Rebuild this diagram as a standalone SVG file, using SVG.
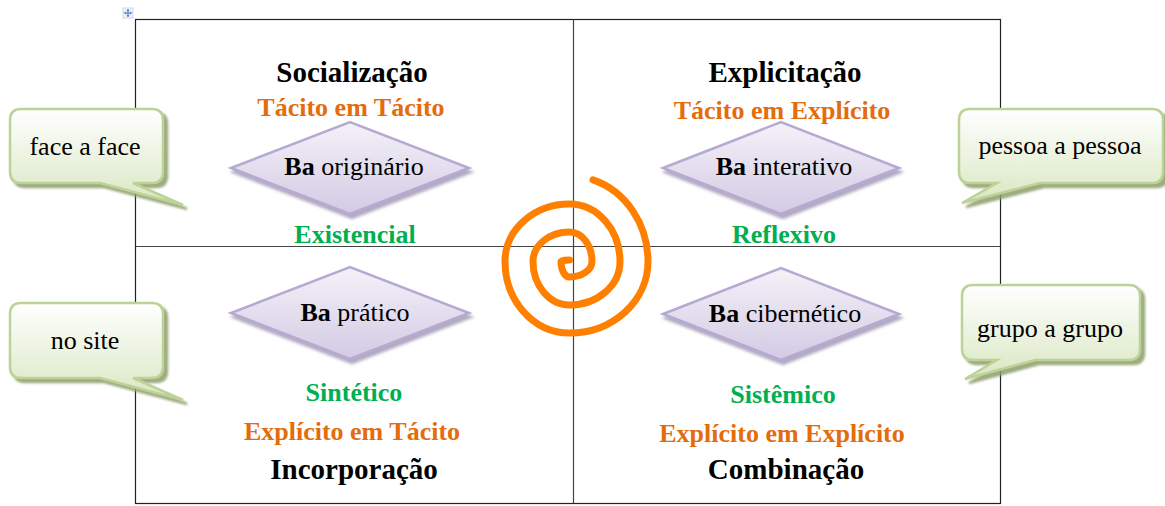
<svg xmlns="http://www.w3.org/2000/svg" width="1165" height="506" viewBox="0 0 1165 506">
<defs>
<linearGradient id="gCall" x1="0" y1="0" x2="0" y2="1">
<stop offset="0" stop-color="#ffffff"/>
<stop offset="1" stop-color="#d9e7c2"/>
</linearGradient>
<linearGradient id="gDia" x1="0" y1="0" x2="0" y2="1">
<stop offset="0" stop-color="#f4f2f8"/>
<stop offset="1" stop-color="#d3cae4"/>
</linearGradient>
<filter id="shCall" x="-10%" y="-10%" width="130%" height="140%">
<feDropShadow dx="4" dy="4" stdDeviation="1.2" flood-color="#8d9f6c" flood-opacity="0.85"/>
</filter>
<filter id="shDia" x="-10%" y="-10%" width="130%" height="140%">
<feDropShadow dx="2" dy="4" stdDeviation="1.5" flood-color="#7c7098" flood-opacity="0.6"/>
</filter>
<style>
.t{font-family:"Liberation Serif","Times New Roman",serif;text-anchor:middle}
.hd{font-size:29px;font-weight:bold;fill:#000}
.or{font-size:26px;font-weight:bold;fill:#e46c0a}
.gr{font-size:26px;font-weight:bold;fill:#00b050}
.dt{font-size:26px;fill:#000}
.ct{font-size:26px;fill:#000}
.call{fill:url(#gCall);stroke:#bdd296;stroke-width:2.5;filter:url(#shCall)}
.dia{fill:url(#gDia);stroke:#b6a9d2;stroke-width:2.5;filter:url(#shDia)}
.ln{stroke:#222;stroke-width:1.2;fill:none}
.in{stroke:#444;stroke-width:1.2;fill:none}
</style>
</defs>
<rect width="1165" height="506" fill="#ffffff"/>

<g id="table">
<rect class="ln" x="135.5" y="19.5" width="865" height="484"/>
<line class="in" x1="573.5" y1="19.5" x2="573.5" y2="503.5"/>
<line class="in" x1="135.5" y1="246.5" x2="1000.5" y2="246.5"/>
</g>

<g id="move-handle">
<rect x="123" y="8" width="10" height="10" fill="#eef2f8" stroke="#c8cfdb" stroke-width="0.8"/>
<path d="M128 9.5V16.5M124.5 13H131.5" stroke="#4a7bd0" stroke-width="1.2"/>
<path d="M128 9l-1.6 1.8h3.2zM128 17l-1.6-1.8h3.2zM124 13l1.8-1.6v3.2zM132 13l-1.8-1.6v3.2z" fill="#4a7bd0"/>
</g>

<g id="spiral">
<path d="M569.5 260 A8.5 1.5 0 0 0 561 261.5 A8.5 15.5 0 0 0 569.5 277 A22.5 15.5 0 0 0 592 261.5 A22.5 29.5 0 0 0 569.5 232 A36.5 29.5 0 0 0 533 261.5 A36.5 43.5 0 0 0 569.5 305 A50.5 43.5 0 0 0 620 261.5 A50.5 57.5 0 0 0 569.5 204 A64.5 57.5 0 0 0 505 261.5 A64.5 71.5 0 0 0 569.5 333 A78.5 71.5 0 0 0 648 261.5 A78.5 85.5 0 0 0 593 179.9" fill="none" stroke="#ff8000" stroke-width="7" stroke-linecap="round" stroke-linejoin="round"/>
</g>

<g id="socializacao">
<text class="t hd" x="352" y="82">Socialização</text>
<text class="t or" x="351" y="116">Tácito em Tácito</text>
<polygon class="dia" points="231,168 350,122 469,168 350,214"/>
<text class="t dt" x="354" y="175"><tspan font-weight="bold">Ba</tspan> originário</text>
<text class="t gr" x="355" y="243">Existencial</text>
</g>

<g id="explicitacao">
<text class="t hd" x="785" y="82">Explicitação</text>
<text class="t or" x="782" y="118.5">Tácito em Explícito</text>
<polygon class="dia" points="663,168 781,122 899,168 781,214"/>
<text class="t dt" x="784" y="175"><tspan font-weight="bold">Ba</tspan> interativo</text>
<text class="t gr" x="784" y="243">Reflexivo</text>
</g>

<g id="incorporacao">
<polygon class="dia" points="231,313 350,267 469,313 350,359"/>
<text class="t dt" x="355" y="321"><tspan font-weight="bold">Ba</tspan> prático</text>
<text class="t gr" x="354" y="401">Sintético</text>
<text class="t or" x="352" y="440">Explícito em Tácito</text>
<text class="t hd" x="354" y="479">Incorporação</text>
</g>

<g id="combinacao">
<polygon class="dia" points="663,314 781,268 899,314 781,360"/>
<text class="t dt" x="785" y="322"><tspan font-weight="bold">Ba</tspan> cibernético</text>
<text class="t gr" x="783" y="403">Sistêmico</text>
<text class="t or" x="782" y="442">Explícito em Explícito</text>
<text class="t hd" x="786" y="479">Combinação</text>
</g>

<g id="callout-face">
<path class="call" d="M21 109H152Q163 109 163 120V172Q163 183 152 183H133L183 205L100 183H21Q10 183 10 172V120Q10 109 21 109Z"/>
<text class="t ct" x="85" y="155">face a face</text>
</g>

<g id="callout-site">
<path class="call" d="M21 303H152Q163 303 163 314V367Q163 378 152 378H133L183 400L100 378H21Q10 378 10 367V314Q10 303 21 303Z"/>
<text class="t ct" x="85" y="349">no site</text>
</g>

<g id="callout-pessoa">
<path class="call" d="M970 109H1152Q1163 109 1163 120V172Q1163 183 1152 183H1040L962 203L997 183H970Q959 183 959 172V120Q959 109 970 109Z"/>
<text class="t ct" x="1060" y="154">pessoa a pessoa</text>
</g>

<g id="callout-grupo">
<path class="call" d="M973 285H1129Q1140 285 1140 296V349Q1140 360 1129 360H1035L965 379L997 360H973Q962 360 962 349V296Q962 285 973 285Z"/>
<text class="t ct" x="1050" y="337">grupo a grupo</text>
</g>

<g id="connectors"/>
</svg>
